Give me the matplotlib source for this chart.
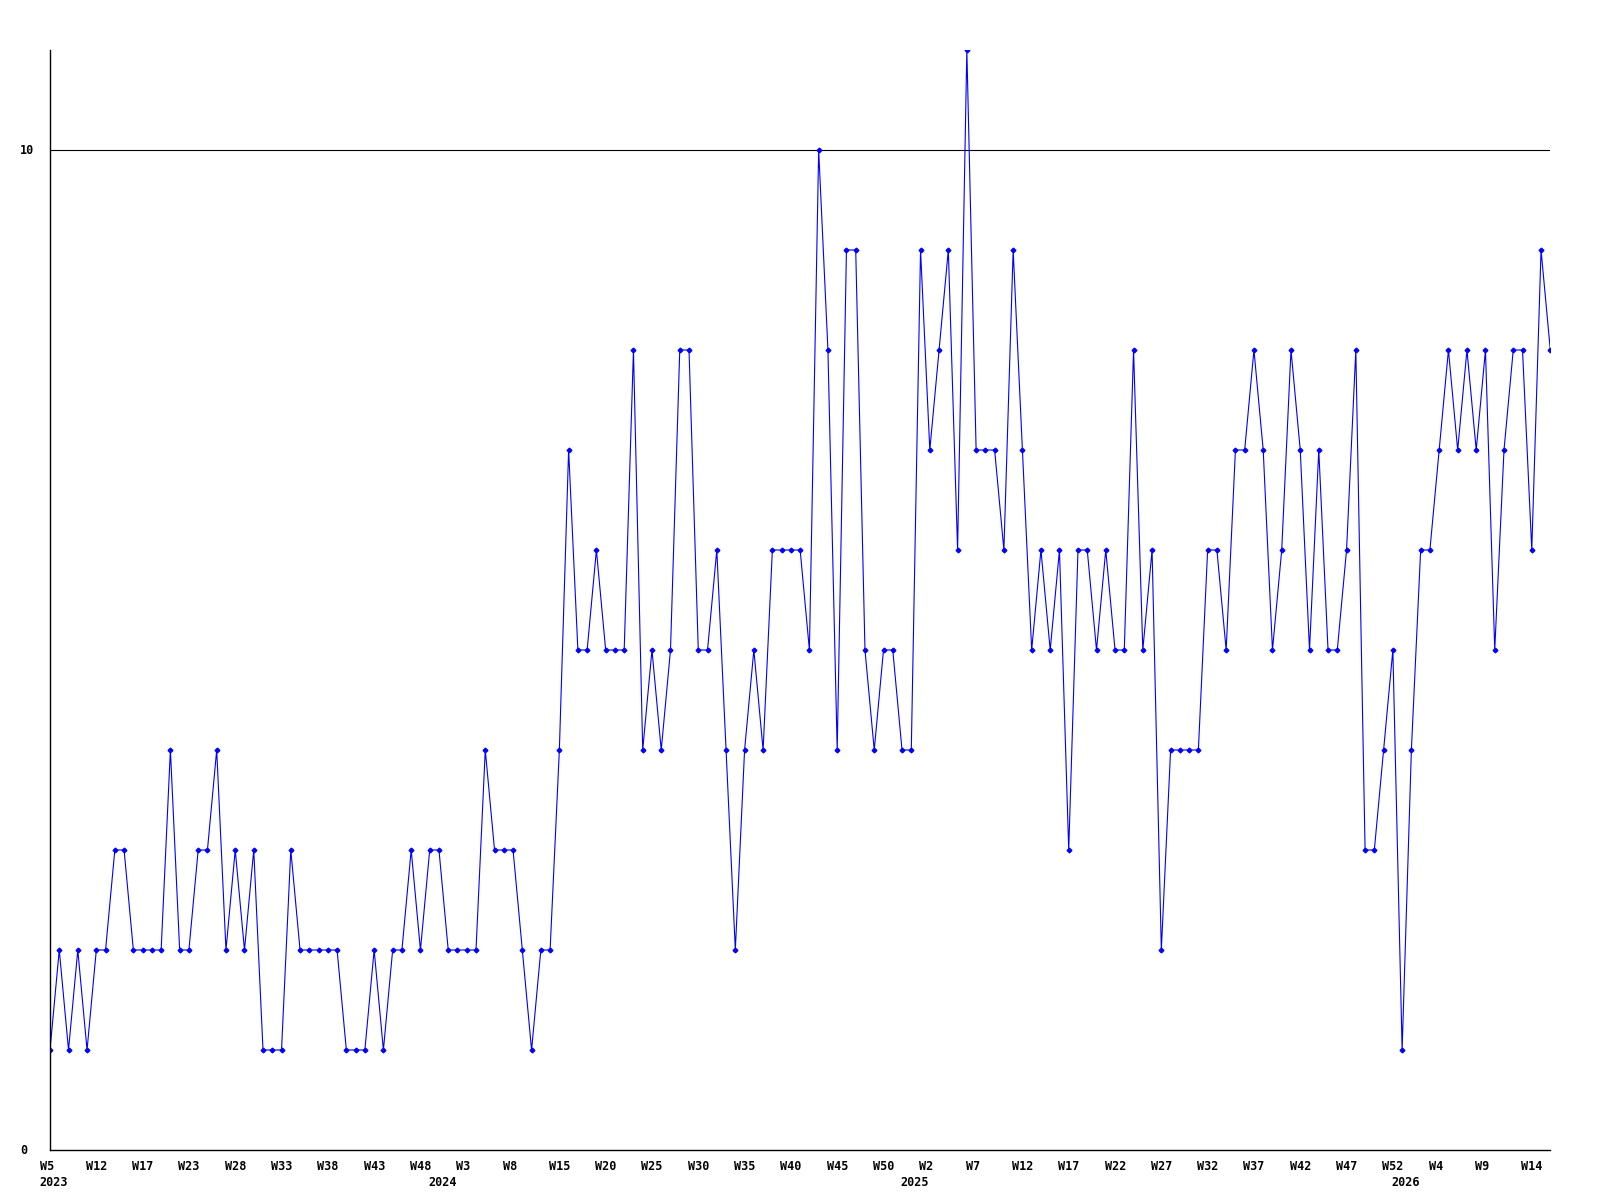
import matplotlib
matplotlib.use("Agg")
import matplotlib.pyplot as plt
import matplotlib.transforms as mtransforms

# weekly values, one point per reported week
values = [
    1, 2, 1, 2, 1, 2, 2, 3, 3, 2, 2, 2, 2, 4, 2, 2, 3, 3, 4, 2, 3, 2, 3, 1, 1, 1, 3,
    2, 2, 2, 2, 2, 1, 1, 1, 2, 1, 2, 2, 3, 2, 3, 3, 2, 2, 2, 2, 4, 3, 3, 3, 2, 1, 2,
    2, 4, 7, 5, 5, 6, 5, 5, 5, 8, 4, 5, 4, 5, 8, 8, 5, 5, 6, 4, 2, 4, 5, 4, 6, 6, 6,
    6, 5, 10, 8, 4, 9, 9, 5, 4, 5, 5, 4, 4, 9, 7, 8, 9, 6, 11, 7, 7, 7, 6, 9, 7, 5,
    6, 5, 6, 3, 6, 6, 5, 6, 5, 5, 8, 5, 6, 2, 4, 4, 4, 4, 6, 6, 5, 7, 7, 8, 7, 5, 6,
    8, 7, 5, 7, 5, 5, 6, 8, 3, 3, 4, 5, 1, 4, 6, 6, 7, 8, 7, 8, 7, 8, 5, 7, 8, 8, 6, 9, 8,
]

week_labels = ["W5", "W12", "W17", "W23", "W28", "W33", "W38", "W43", "W48",
               "W3", "W8", "W15", "W20", "W25", "W30", "W35", "W40", "W45", "W50",
               "W2", "W7", "W12", "W17", "W22", "W27", "W32", "W37", "W42", "W47", "W52",
               "W4", "W9", "W14"]
label_step = 5

years = ["2023", "2024", "2025", "2026"]
year_start = [0, 42, 93, 146]

y_labels = [0, 10]

fig = plt.figure(figsize=(16, 12), dpi=100)
W, H = 1600, 1200
ax = fig.add_axes([50 / W, 50 / H, 1500.3 / W, 1100 / H])

x = list(range(len(values)))
ax.plot(x, values, color="#0000ff", lw=0.8, marker="D", ms=2.4, mec="#0000ff", mfc="#0000ff")
ax.axhline(10, color="black", lw=0.8, zorder=0)

ax.set_xlim(0, len(values) - 1)
ax.set_ylim(0, 11)
ax.set_xticks([])
ax.set_yticks([])
for s in ["top", "right"]:
    ax.spines[s].set_visible(False)
for s in ["left", "bottom"]:
    ax.spines[s].set_color("black")
    ax.spines[s].set_linewidth(1.0)

font = dict(family="DejaVu Sans Mono", weight="bold", size=8.5)

# x labels: left-aligned slightly before each labelled point
shift = mtransforms.ScaledTranslation(-10.5 / 100, 0, fig.dpi_scale_trans)
xt = ax.get_xaxis_transform() + shift
for i, lab in enumerate(week_labels):
    ax.text(i * label_step, -10.5 / 1100, lab, transform=xt, ha="left", va="top", **font)
for yr, idx in zip(years, year_start):
    ax.text(idx, -26 / 1100, yr, transform=xt, ha="left", va="top", **font)

# y labels at the left edge of the figure
yt = mtransforms.blended_transform_factory(fig.transFigure, ax.transData)
for v in y_labels:
    ax.text(20 / W, v, str(v), transform=yt, ha="left", va="center", **font)

fig.savefig("out.png", dpi=100)
